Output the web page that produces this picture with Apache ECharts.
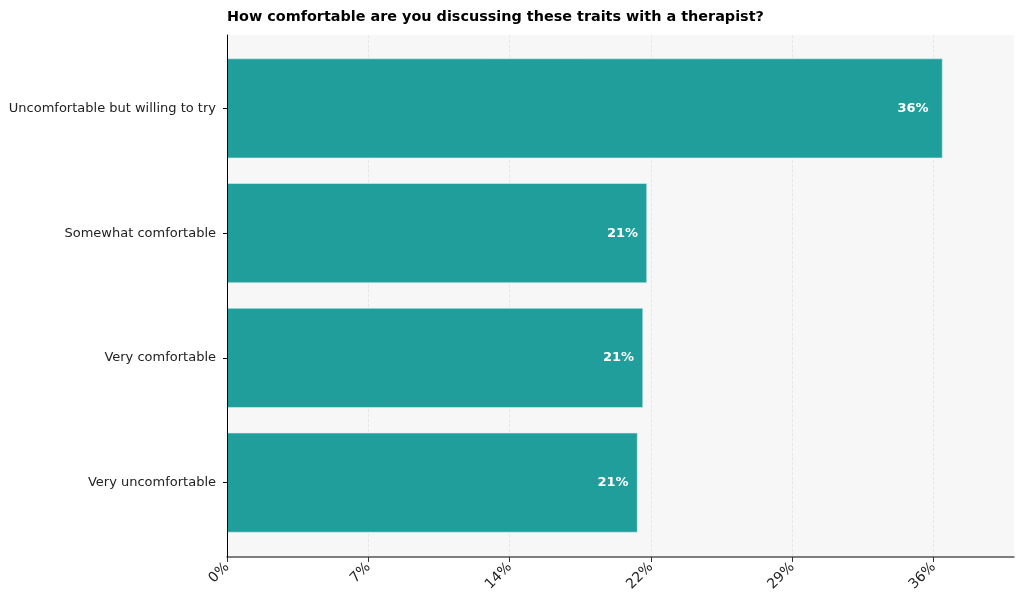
<!DOCTYPE html>
<html>
<head>
<meta charset="utf-8">
<script src="https://cdn.jsdelivr.net/npm/echarts@6/dist/echarts.min.js"></script>
<style>
  html, body { margin: 0; padding: 0; background: #fff; }
  #chart { width: 1024px; height: 610px; }
</style>
</head>
<body>
<div id="chart"></div>
<script>
// data
var categories = ['Uncomfortable but willing to try', 'Somewhat comfortable', 'Very comfortable', 'Very uncomfortable'];
var values = [36.46, 21.4, 21.2, 20.92];
var tickValues = [0, 7.2, 14.4, 21.6, 28.8, 36];
var xMax = 40.1;

var font = 'DejaVu Sans';
function pct(v) { return Math.round(v) + '%'; }

// label gap from the bar end differs a bit in the original
var labelGaps = [14, 9, 9, 9];
var barData = values.map(function (v, i) {
  return { value: v, label: { distance: labelGaps[i] } };
});

var chart = echarts.init(document.getElementById('chart'));
var option = {
  animation: false,
  title: {
    text: 'How comfortable are you discussing these traits with a therapist?',
    left: 227, top: 10, padding: 0,
    textStyle: { fontFamily: font, fontSize: 14.4, fontWeight: 'bold', color: '#000' }
  },
  grid: [
    // background / spines / x axis
    { left: 227, right: 10, top: 35, bottom: 53, show: true, backgroundColor: '#f7f7f7', borderWidth: 0 },
    // bars
    { left: 227, right: 10, top: 46, bottom: 65 }
  ],
  xAxis: [
    {
      gridIndex: 0, type: 'value', min: 0, max: xMax,
      axisLine: { show: true, lineStyle: { color: '#555', width: 1.5 } },
      axisTick: { show: true, length: 5, customValues: tickValues, lineStyle: { color: '#333' } },
      axisLabel: {
        customValues: tickValues, formatter: pct, rotate: 45, margin: 8,
        fontFamily: font, fontSize: 14, color: '#222'
      },
      splitLine: { show: true, lineStyle: { color: '#e2e2e2', type: 'dashed', width: 0.8 } }
    },
    { gridIndex: 1, type: 'value', min: 0, max: xMax, show: false }
  ],
  yAxis: [
    {
      gridIndex: 0, type: 'value', min: 0, max: 1, z: 10,
      axisLine: { show: true, onZero: false, lineStyle: { color: '#000', width: 1 } },
      axisTick: { show: false }, axisLabel: { show: false }, splitLine: { show: false }
    },
    {
      gridIndex: 1, type: 'category', data: categories, inverse: true,
      axisLine: { show: false },
      axisTick: { show: true, alignWithLabel: true, length: 4, lineStyle: { color: '#000' } },
      axisLabel: { fontFamily: font, fontSize: 13, color: '#222', margin: 11 }
    }
  ],
  series: [{
    type: 'bar',
    xAxisIndex: 1, yAxisIndex: 1,
    data: barData,
    barCategoryGap: '20%',
    itemStyle: { color: '#1f9e9b', borderColor: '#d8f0ee', borderWidth: 0.6 },
    label: {
      show: true, position: 'insideRight',
      formatter: function (p) { return pct(p.value); },
      fontFamily: font, fontSize: 13, fontWeight: 'bold', color: '#fff'
    }
  }]
};
chart.setOption(option);
</script>
</body>
</html>
